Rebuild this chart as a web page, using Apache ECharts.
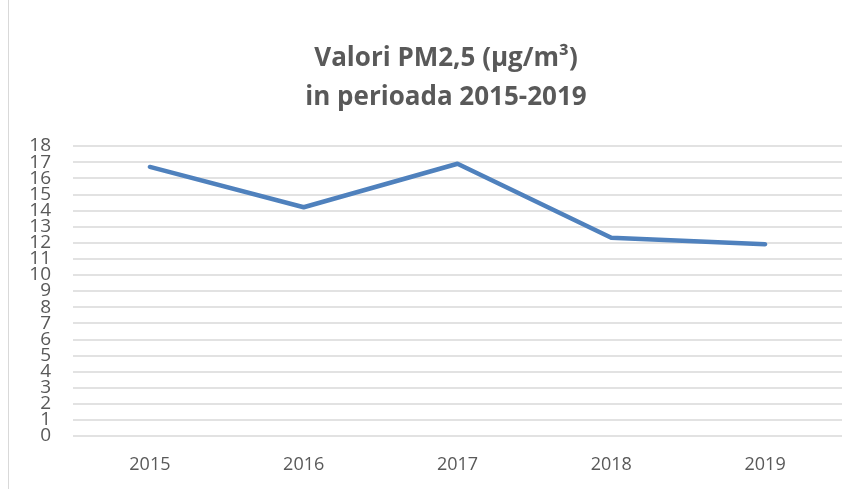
<!DOCTYPE html>
<html>
<head>
<meta charset="utf-8">
<script src="https://cdn.jsdelivr.net/npm/echarts@6/dist/echarts.min.js"></script>
<style>
  html, body { margin: 0; padding: 0; background: #fff; }
  #chart { width: 858px; height: 489px; }
</style>
</head>
<body>
<div id="chart"></div>
<script>
// valori
const years = ['2015', '2016', '2017', '2018', '2019']
const pm25 = [16.7, 14.2, 16.9, 12.3, 11.9]
const yMin = 0
const yMax = 18

const yLabel = {
  margin: 22,
  fontFamily: 'Open Sans',
  fontSize: 19,
  color: '#595959'
}

const myChart = echarts.init(document.getElementById('chart'))
myChart.setOption({
  animation: false,
  title: {
    text: 'Valori PM2,5 (µg/m³)\nin perioada 2015-2019',
    left: 441,
    textAlign: 'center',
    top: 34,
    textStyle: {
      fontFamily: 'Open Sans',
      fontWeight: 'bold',
      fontSize: 26,
      lineHeight: 39,
      color: '#595959'
    }
  },
  graphic: [
    {
      type: 'rect',
      shape: { x: 8.5, y: -2, width: 860, height: 500 },
      style: { fill: 'none', stroke: '#d9d9d9', lineWidth: 1 }
    }
  ],
  grid: {
    left: 73,
    right: 16,
    top: 146,
    bottom: 53
  },
  xAxis: {
    type: 'category',
    data: years,
    axisLine: { show: false },
    axisTick: { show: false },
    axisLabel: {
      margin: 20,
      fontFamily: 'Open Sans',
      fontSize: 18,
      color: '#595959'
    }
  },
  yAxis: [
    {
      type: 'value',
      min: yMin,
      max: yMax,
      interval: 1,
      axisLine: { show: false },
      axisTick: { show: false },
      axisLabel: Object.assign({ showMinLabel: false, showMaxLabel: false }, yLabel),
      splitLine: { lineStyle: { color: '#d9d9d9', width: 1.5 } }
    },
    {
      // doar 0 si 18, ca sa nu fie ascunse de suprapunere
      type: 'value',
      position: 'left',
      min: yMin,
      max: yMax,
      interval: yMax - yMin,
      axisLine: { show: false },
      axisTick: { show: false },
      axisLabel: yLabel,
      splitLine: { show: false }
    }
  ],
  series: [
    {
      type: 'line',
      data: pm25,
      symbol: 'none',
      lineStyle: { color: '#4f81bd', width: 4.5, cap: 'round', join: 'round' }
    }
  ]
})
</script>
</body>
</html>
